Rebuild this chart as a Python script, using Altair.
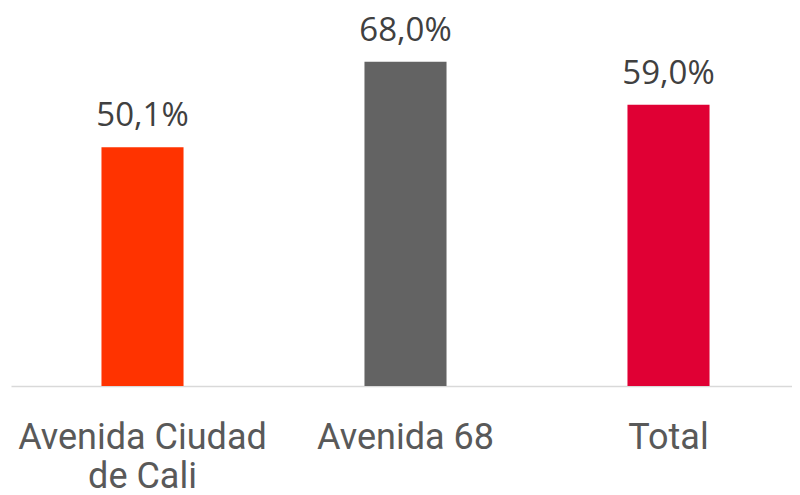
import altair as alt
import pandas as pd

categories = ["Avenida Ciudad de Cali", "Avenida 68", "Total"]
values = [50.1, 68.0, 59.0]
labels = ["50,1%", "68,0%", "59,0%"]
colors = ["#FF3300", "#636363", "#E00034"]

df = pd.DataFrame({"cat": categories, "val": values, "lbl": labels, "col": colors})

x = alt.X(
    "cat:N",
    sort=categories,
    title=None,
    scale=alt.Scale(paddingInner=0.688, paddingOuter=0.344),
    axis=alt.Axis(
        labelAngle=0,
        labelFont="Roboto",
        labelFontSize=36,
        labelColor="#595959",
        labelPadding=62,
        labelLineHeight=39,
        labelBaseline="alphabetic",
        labelExpr="datum.value == 'Avenida Ciudad de Cali' ? ['Avenida Ciudad', 'de Cali'] : datum.value",
        ticks=False,
        domainColor="#D9D9D9",
        domainWidth=1.5,
        labelOverlap=False,
        labelLimit=0,
    ),
)
y = alt.Y("val:Q", title=None, scale=alt.Scale(domain=[0, 79.3], nice=False), axis=None)

bars = alt.Chart(df).mark_bar().encode(
    x=x, y=y, color=alt.Color("col:N", scale=None)
)
text = alt.Chart(df).mark_text(
    dy=-21, baseline="alphabetic", font="Open Sans", fontSize=33, color="#404040"
).encode(x=alt.X("cat:N", sort=categories), y="val:Q", text="lbl:N")

chart = (
    alt.layer(bars, text)
    .properties(
        width=789,
        height=378,
        autosize=alt.AutoSizeParams(type="none"),
        padding={"left": 3, "top": 0, "right": -8, "bottom": 108},
    )
    .configure_view(stroke=None)
)
chart.save("out.html", embed_options={"renderer": "svg", "actions": False})
